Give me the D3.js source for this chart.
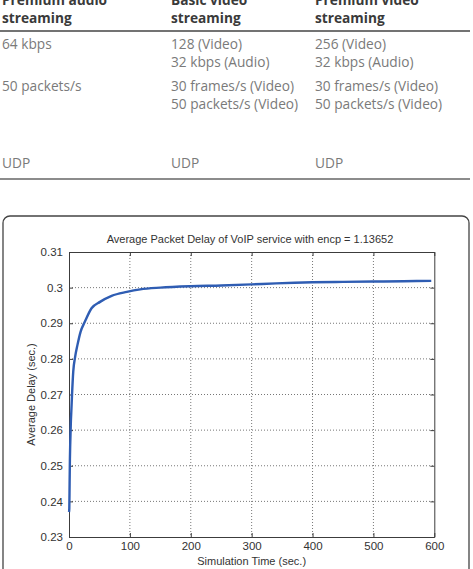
<!DOCTYPE html>
<html><head><meta charset="utf-8">
<script src="https://cdn.jsdelivr.net/npm/d3@7"></script>
<style>
html,body{margin:0;padding:0;background:#fff;overflow:hidden;}
svg{display:block;}
</style></head>
<body>
<script>
// ---- Table data ----
const tableHeaders = [["Premium audio","streaming"],["Basic video","streaming"],["Premium video","streaming"]];
const rowBitrate = [["64 kbps"],["128 (Video)","32 kbps (Audio)"],["256 (Video)","32 kbps (Audio)"]];
const rowRate = [["50 packets/s"],["30 frames/s (Video)","50 packets/s (Video)"],["30 frames/s (Video)","50 packets/s (Video)"]];
const rowTransport = [["UDP"],["UDP"],["UDP"]];

// ---- Chart data ----
const chartTitle = "Average Packet Delay of VoIP service with encp = 1.13652";
const xLabel = "Simulation Time (sec.)";
const yLabel = "Average Delay (sec.)";
const xTicks = [0,100,200,300,400,500,600];
const yTicks = [0.23,0.24,0.25,0.26,0.27,0.28,0.29,0.30,0.31];
const simTime = [0,0.5,1,1.5,2,3,4,5,7,10,14,19,26,37,51,70,95,117,150,200,250,300,340,400,450,500,550,595];
const avgDelay = [0.237,0.238,0.245,0.252,0.256,0.262,0.266,0.270,0.2765,0.2805,0.284,0.2876,0.2904,0.2942,0.2960,0.2977,0.2988,0.2995,0.3000,0.3004,0.3006,0.3009,0.3012,0.3015,0.3016,0.3017,0.3018,0.3019];

const W = 473, H = 569;
const svg = d3.select("body").append("svg").attr("width", W).attr("height", H);

// ---- Table ----
const colX = [2, 171, 315];
const tfont = "'Open Sans', sans-serif";
const tg = svg.append("g");
function cellLines(lines, x, y0, color, weight) {
  lines.forEach((t, i) => {
    tg.append("text").attr("x", x).attr("y", y0 + i * 18.3)
      .attr("font-family", tfont).attr("font-size", 13.7).attr("font-weight", weight)
      .attr("fill", color).text(t);
  });
}
tableHeaders.forEach((h, i) => cellLines(h, colX[i], 4.5, "#3a3a3a", "bold"));
tg.append("line").attr("x1", 0).attr("x2", 470).attr("y1", 31).attr("y2", 31).attr("stroke", "#444").attr("stroke-width", 1.5);
rowBitrate.forEach((c, i) => cellLines(c, colX[i], 48.5, "#7a7a7a", "normal"));
rowRate.forEach((c, i) => cellLines(c, colX[i], 90.5, "#7a7a7a", "normal"));
rowTransport.forEach((c, i) => cellLines(c, colX[i], 167.5, "#7a7a7a", "normal"));
tg.append("line").attr("x1", 0).attr("x2", 470).attr("y1", 179).attr("y2", 179).attr("stroke", "#666").attr("stroke-width", 1.5);

// ---- Chart frame ----
svg.append("rect").attr("x", 3).attr("y", 216).attr("width", 466).attr("height", 400)
  .attr("rx", 7).attr("fill", "#fff").attr("stroke", "#444").attr("stroke-width", 1.3);

const L = 69, R = 434.3, T = 252, B = 537;
const x = d3.scaleLinear().domain([0, 600]).range([L, R]);
const y = d3.scaleLinear().domain([0.23, 0.31]).range([B, T]);
const cfont = "'Liberation Sans', Arial, sans-serif";
const axisColor = "#3c3c3c";
const textColor = "#333";

// grid
const grid = svg.append("g");
xTicks.slice(1, -1).forEach(v => grid.append("line").attr("x1", x(v)).attr("x2", x(v)).attr("y1", T).attr("y2", B)
  .attr("stroke", "#777").attr("stroke-width", 1).attr("stroke-dasharray", "1,2"));
yTicks.slice(1, -1).forEach(v => grid.append("line").attr("x1", L).attr("x2", R).attr("y1", y(v)).attr("y2", y(v))
  .attr("stroke", "#777").attr("stroke-width", 1).attr("stroke-dasharray", "1,2"));

// axes
function styleAxis(g) {
  g.selectAll("path").attr("stroke", axisColor);
  g.selectAll("line").attr("stroke", axisColor);
  g.selectAll("text").attr("font-family", cfont).attr("font-size", 11.5).attr("fill", textColor);
}
const fmtY = d => d3.format("")(+d.toFixed(2));
svg.append("g").attr("transform", `translate(0,${B})`)
  .call(d3.axisBottom(x).tickValues(xTicks).tickSizeInner(-4).tickSizeOuter(0).tickPadding(5))
  .call(styleAxis);
svg.append("g").attr("transform", `translate(${L},0)`)
  .call(d3.axisLeft(y).tickValues(yTicks).tickFormat(fmtY).tickSizeInner(-4).tickSizeOuter(0).tickPadding(6))
  .call(styleAxis);
svg.append("g").attr("transform", `translate(0,${T})`)
  .call(d3.axisTop(x).tickValues(xTicks).tickFormat("").tickSizeInner(-4).tickSizeOuter(0))
  .call(styleAxis);
svg.append("g").attr("transform", `translate(${R},0)`)
  .call(d3.axisRight(y).tickValues(yTicks).tickFormat("").tickSizeInner(-4).tickSizeOuter(0))
  .call(styleAxis);

// line
const pts = simTime.map((t, i) => [t, avgDelay[i]]);
svg.append("path").datum(pts)
  .attr("d", d3.line().x(d => x(d[0])).y(d => y(d[1])).curve(d3.curveMonotoneX))
  .attr("fill", "none").attr("stroke", "#2f5db3").attr("stroke-width", 2.4).attr("stroke-linejoin", "round");

// labels
svg.append("text").attr("x", 250).attr("y", 243).attr("text-anchor", "middle")
  .attr("font-family", cfont).attr("font-size", 11).attr("fill", textColor).text(chartTitle);
svg.append("text").attr("x", (L + R) / 2).attr("y", 565).attr("text-anchor", "middle")
  .attr("font-family", cfont).attr("font-size", 11).attr("fill", textColor).text(xLabel);
svg.append("text").attr("transform", `translate(35,${(T + B) / 2}) rotate(-90)`).attr("text-anchor", "middle")
  .attr("font-family", cfont).attr("font-size", 11).attr("fill", textColor).text(yLabel);
</script>
</body></html>
